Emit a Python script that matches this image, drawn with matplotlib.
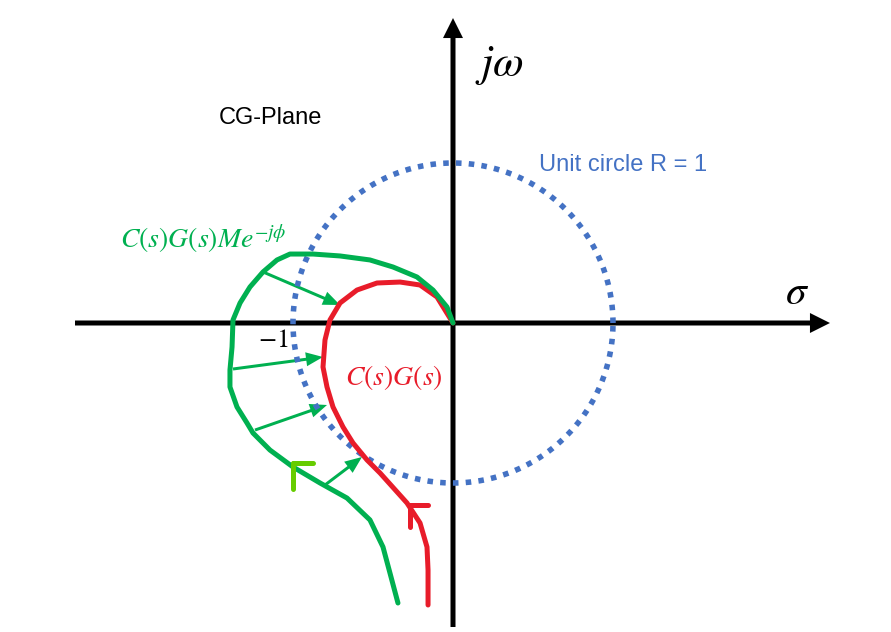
import matplotlib
matplotlib.use('Agg')
import matplotlib.pyplot as plt
import numpy as np

plt.rcParams['mathtext.fontset'] = 'stix'
plt.rcParams['font.family'] = ['Liberation Sans', 'DejaVu Sans']

# s-plane coordinates (unit circle radius = 1)
red_x = [0.0, -0.1, -0.206, -0.331, -0.475, -0.6, -0.706, -0.769, -0.8, -0.8125,
         -0.7875, -0.75, -0.6875, -0.625, -0.5375, -0.456, -0.2875, -0.206,
         -0.1625, -0.156, -0.156]
red_y = [0.0, 0.1625, 0.2375, 0.256, 0.25, 0.206, 0.125, 0.019, -0.106, -0.275,
         -0.4, -0.525, -0.65, -0.75, -0.856, -0.9375, -1.125, -1.25,
         -1.4, -1.544, -1.7625]

green_x = [0.0, -0.0375, -0.125, -0.225, -0.375, -0.519, -0.706, -0.875, -1.019,
           -1.1, -1.1875, -1.269, -1.331, -1.375, -1.381, -1.394, -1.394, -1.35,
           -1.2875, -1.25, -1.144, -1.0, -0.831, -0.6625, -0.519, -0.4375,
           -0.394, -0.344]
green_y = [0.0, 0.1, 0.206, 0.2875, 0.35, 0.394, 0.419, 0.431, 0.431,
           0.394, 0.319, 0.225, 0.125, 0.019, -0.15, -0.294, -0.4, -0.525,
           -0.625, -0.6875, -0.794, -0.9, -1.0, -1.094, -1.231, -1.4,
           -1.5625, -1.75]

# arrows from the shifted curve back to C(s)G(s)
arrow_start = [(-1.1875, 0.319), (-1.375, -0.2875), (-1.2375, -0.669), (-0.8, -1.0125)]
arrow_end = [(-0.706, 0.1125), (-0.8125, -0.2125), (-0.7875, -0.5125), (-0.569, -0.8375)]

radius = 1.0
scale = 160.0  # pixels per unit

fig = plt.figure(figsize=(8.91, 6.32), dpi=100)
ax = fig.add_axes([0, 0, 1, 1])
ax.set_xlim(-453 / scale, (891 - 453) / scale)
ax.set_ylim((323 - 632) / scale, 323 / scale)
ax.set_aspect('equal')
ax.axis('off')

# axes with arrow heads
px = 1 / scale
ax.arrow(-2.3625, 0, 2.3625 + 2.356, 0, width=5 * px, head_width=20 * px,
         head_length=20 * px, length_includes_head=True, color='black', lw=0)
ax.arrow(0, -1.90, 0, 1.90 + 1.906, width=5 * px, head_width=20 * px,
         head_length=20 * px, length_includes_head=True, color='black', lw=0)

# unit circle
t = np.linspace(0, 2 * np.pi, 400)
ax.plot(radius * np.cos(t), radius * np.sin(t), color='#4472c4', lw=4.0,
        linestyle=(0, (1, 1.3)), dash_capstyle='butt')

# curves
ax.plot(red_x, red_y, color='#e81c2a', lw=3.6, solid_joinstyle='round',
        solid_capstyle='round')
ax.plot(green_x, green_y, color='#00b050', lw=3.6, solid_joinstyle='round',
        solid_capstyle='round')

# direction marks
ax.plot([-0.27, -0.27], [-1.275, -1.14], color='#e81c2a', lw=3.6, solid_capstyle='round')
ax.plot([-0.27, -0.156], [-1.14, -1.14], color='#e81c2a', lw=3.6, solid_capstyle='round')
ax.plot([-1.0, -1.0], [-1.04, -0.875], color='#66cc00', lw=3.6, solid_capstyle='round')
ax.plot([-1.0, -0.875], [-0.875, -0.875], color='#66cc00', lw=3.6, solid_capstyle='round')

for (x0, y0), (x1, y1) in zip(arrow_start, arrow_end):
    ax.arrow(x0, y0, x1 - x0, y1 - y0, width=3 * px, head_width=14 * px,
             head_length=17 * px, length_includes_head=True, color='#00b050', lw=0)

# labels
ax.text(-1.14, 1.28, 'CG-Plane', fontsize=17, ha='center', va='center', color='black')
ax.text(1.06, 0.99, 'Unit circle R = 1', fontsize=17, ha='center', va='center',
        color='#4472c4')
ax.text(0.29, 1.61, r'$j\omega$', fontsize=32, ha='center', va='center')
ax.text(2.15, 0.19, r'$\sigma$', fontsize=30, ha='center', va='center')
ax.text(-1.125, -0.106, r'$-1$', fontsize=19, ha='center', va='center')
ax.text(-0.37, -0.34, r'$C(s)G(s)$', fontsize=20, ha='center', va='center',
        color='#e81c2a')
ax.text(-2.08, 0.52, r'$C(s)G(s)Me^{-j\phi}$', fontsize=20, ha='left', va='center',
        color='#00b050')

fig.savefig('out.png', dpi=100)
